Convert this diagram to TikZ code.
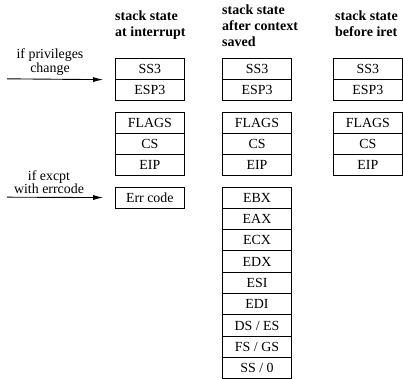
\documentclass[tikz,border=0pt]{standalone}
\usepackage{fontspec}
\setmainfont{Liberation Serif}
\usetikzlibrary{arrows.meta}
\begin{document}
\begin{tikzpicture}[x=1pt,y=-1pt,
  cell/.style={draw, line width=0.9pt, rectangle, anchor=north,
    minimum width=69.4pt, minimum height=21.33pt, inner sep=0pt,
    font=\fontsize{13.9}{16}\selectfont},
  head/.style={anchor=north west, align=left, inner sep=0pt,
    font=\fontsize{14}{16.2}\selectfont\bfseries},
  note/.style={anchor=south, align=center, inner sep=0pt,
    font=\fontsize{13.9}{13.5}\selectfont},
  arr/.style={-{Latex[length=10pt,width=5pt]}, line width=0.9pt}]
\useasboundingbox (0,0) rectangle (403,378);
\clip (0,0) rectangle (403,378);

% column headings
\node[head] (h1) at (115,10.5) {stack state\\at interrupt};
\node[head] (h2) at (222,4.5) {stack state\\after context\\saved};
\node[head] (h3) at (335,10.5) {stack state\\before iret};

% stack at interrupt
\node[cell] (a1) at (149.8,57.5)  {SS3};
\node[cell] (a2) at (149.8,78.83) {ESP3};
\node[cell] (a3) at (149.8,111.5) {FLAGS};
\node[cell] (a4) at (149.8,132.83) {CS};
\node[cell] (a5) at (149.8,154.16) {EIP};
\node[cell] (a6) at (149.8,186.5) {Err code};

% stack after the context is saved
\node[cell] (b1) at (257,57.5)  {SS3};
\node[cell] (b2) at (257,78.83) {ESP3};
\node[cell] (b3) at (257,111.5) {FLAGS};
\node[cell] (b4) at (257,132.83) {CS};
\node[cell] (b5) at (257,154.16) {EIP};
\node[cell] (b6) at (257,186.5)  {EBX};
\node[cell] (b7) at (257,207.83) {EAX};
\node[cell] (b8) at (257,229.16) {ECX};
\node[cell] (b9) at (257,250.49) {EDX};
\node[cell] (b10) at (257,271.82) {ESI};
\node[cell] (b11) at (257,293.15) {EDI};
\node[cell] (b12) at (257,314.48) {DS / ES};
\node[cell] (b13) at (257,335.81) {FS / GS};
\node[cell] (b14) at (257,357.14) {SS / 0};

% stack before iret
\node[cell] (c1) at (367.8,57.5)  {SS3};
\node[cell] (c2) at (367.8,78.83) {ESP3};
\node[cell] (c3) at (367.8,111.5) {FLAGS};
\node[cell] (c4) at (367.8,132.83) {CS};
\node[cell] (c5) at (367.8,154.16) {EIP};

% optional parts of the frame
\coordinate (s1) at (7,78.83);
\coordinate (s2) at (7,197.17);
\draw[arr, shorten >=11.5pt] (s1) -- (a1.south west);
\draw[arr, shorten >=11.5pt] (s2) -- (a6.west);
\node[note] (n1) at (50,75.5) {if privileges\\change};
\node[note] (n2) at (49,194) {if excpt\\with errcode};
\end{tikzpicture}
\end{document}
